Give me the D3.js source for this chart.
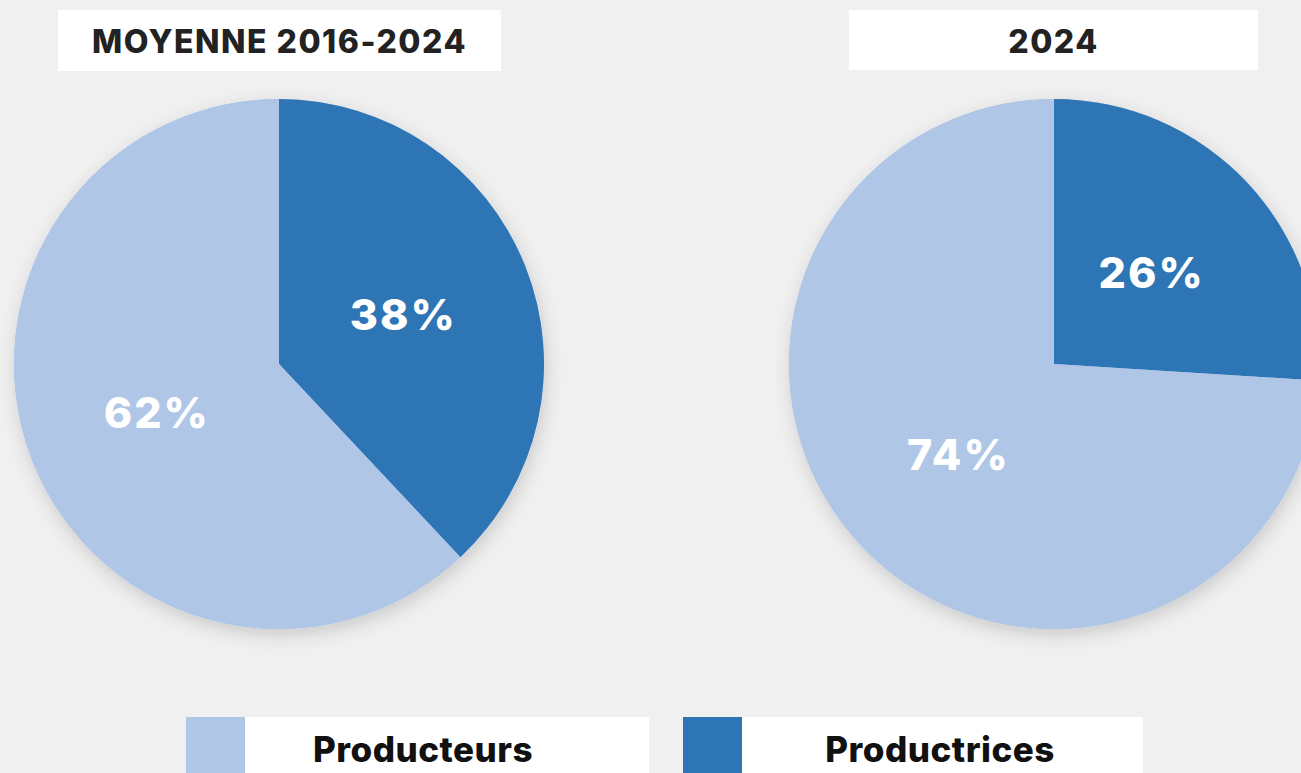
<!DOCTYPE html>
<html><head><meta charset="utf-8">
<script src="https://cdn.jsdelivr.net/npm/d3@7"></script>
<style>
html,body{margin:0;padding:0;background:#f0f0f0;overflow:hidden}
svg{display:block}
text{font-family:Inter,"Open Sans",sans-serif}
</style></head>
<body>
<svg id="chart" width="1301" height="773"></svg>
<script>
const titles = ["MOYENNE 2016-2024", "2024"];
const categories = ["Productrices", "Producteurs"];
const valuesMoyenne = [38, 62];
const values2024 = [26, 74];
const legendOrder = ["Producteurs", "Productrices"];

const W = 1301, H = 773;
const svg = d3.select("#chart");
svg.append("rect").attr("width", W).attr("height", H).attr("fill", "#f0f0f0");

const color = d3.scaleOrdinal().domain(categories).range(["#2e75b6", "#afc6e7"]);

const defs = svg.append("defs");
const f = defs.append("filter").attr("id", "sh").attr("x", "-20%").attr("y", "-20%").attr("width", "140%").attr("height", "140%");
f.append("feDropShadow").attr("dx", 2).attr("dy", 6).attr("stdDeviation", 9)
  .attr("flood-color", "#000").attr("flood-opacity", 0.16);

const R = 265;
const panels = [
  {title: titles[0], values: valuesMoyenne, cx: 279, cy: 364, box: [58, 10, 443, 61]},
  {title: titles[1], values: values2024, cx: 1054, cy: 364, box: [849, 10, 409, 60]}
];

const pie = d3.pie().sort(null).value(d => d.v);
const arc = d3.arc().innerRadius(0).outerRadius(R);

panels.forEach(p => {
  const data = categories.map((c, i) => ({c, v: p.values[i]}));
  const g = svg.append("g").attr("transform", `translate(${p.cx},${p.cy})`);
  g.append("circle").attr("r", R).attr("fill", "#afc6e7").attr("filter", "url(#sh)");
  const arcs = pie(data);
  g.selectAll("path").data(arcs).join("path")
    .attr("d", arc).attr("fill", d => color(d.data.c));
  g.selectAll("text.lbl").data(arcs).join("text").attr("class", "lbl")
    .attr("x", d => arc.centroid(d)[0] + 1)
    .attr("y", d => arc.centroid(d)[1] - 1)
    .attr("text-anchor", "middle").attr("dominant-baseline", "central")
    .attr("fill", "#fff").attr("font-size", 43).attr("font-weight", 800)
    .attr("letter-spacing", 2)
    .text(d => d.data.v + "%");

  const [bx, by, bw, bh] = p.box;
  svg.append("rect").attr("x", bx).attr("y", by).attr("width", bw).attr("height", bh).attr("fill", "#fff");
  svg.append("text").attr("x", bx + bw / 2).attr("y", by + bh / 2 + 1)
    .attr("text-anchor", "middle").attr("dominant-baseline", "central")
    .attr("fill", "#222").attr("font-size", 32).attr("font-weight", 800)
    .attr("letter-spacing", 1.5)
    .text(p.title);
});

// legend
const legendPos = [{x: 186, sw: 59, bw: 404, tx: 423}, {x: 683, sw: 59, bw: 401, tx: 940}];
legendOrder.forEach((c, i) => {
  const L = legendPos[i];
  const g = svg.append("g");
  g.append("rect").attr("x", L.x).attr("y", 717).attr("width", L.sw).attr("height", 60).attr("fill", color(c));
  g.append("rect").attr("x", L.x + L.sw).attr("y", 717).attr("width", L.bw).attr("height", 60).attr("fill", "#fff");
  g.append("text").attr("x", L.tx).attr("y", 749)
    .attr("text-anchor", "middle").attr("dominant-baseline", "central")
    .attr("fill", "#111").attr("font-size", 35).attr("font-weight", 800)
    .attr("letter-spacing", 0.5)
    .text(c);
});
</script>
</body></html>
